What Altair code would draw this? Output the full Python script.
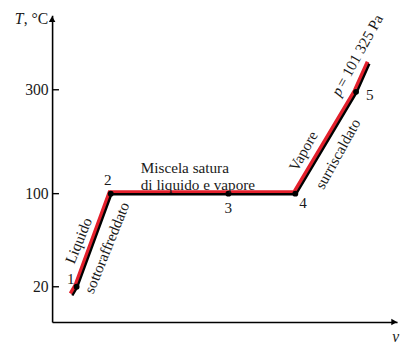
import altair as alt
import pandas as pd

# Heating path of water at constant pressure (schematic T-v diagram)
v_path = [5.7, 7.1, 17.0, 51.1, 70.5, 88.1, 91.8]
T_path = [13, 20, 100, 100, 100, 296, 351]
state_labels = ["", "1", "2", "3", "4", "5", ""]

tick_values = [20, 100, 300]

# piecewise (schematic) temperature axis
y_domain = [-10.3, 20, 100, 300, 443]
y_range = [313, 277, 182, 76, 0]

W, H = 352, 313
FONT = "Liberation Serif"
FS = 15.5
TXT = "#1a1a1a"

path = pd.DataFrame({"v": v_path, "T": T_path, "order": list(range(len(v_path))), "lab": state_labels})
pts = path[path["lab"] != ""].copy()

xs = alt.Scale(domain=[0, 100], nice=False, zero=False)
ys = alt.Scale(domain=y_domain, range=y_range, nice=False, zero=False)

X = alt.X("v:Q", scale=xs, axis=alt.Axis(labels=False, ticks=False, grid=False, title=None,
                                          domainColor="black", domainWidth=1.6))
Y = alt.Y("T:Q", scale=ys, axis=alt.Axis(values=tick_values, ticks=False, grid=False, title=None,
                                          labelFont=FONT, labelFontSize=16, labelColor=TXT,
                                          labelPadding=4, domainColor="black", domainWidth=1.6))

base = alt.Chart(path)
red = base.mark_line(color="#e3202c", strokeWidth=3.8, xOffset=-1.3, yOffset=-1.5).encode(x=X, y=Y, order="order:Q")
black = base.mark_line(color="black", strokeWidth=2.4, xOffset=0.6, yOffset=0.6).encode(x=X, y=Y, order="order:Q")
dots = alt.Chart(pts).mark_circle(color="black", size=36, opacity=1).encode(x=X, y=Y)

# point labels (offsets per state)
lab_dx = {"1": -6, "2": -3, "3": 0, "4": 8, "5": 14}
lab_dy = {"1": -8, "2": -14, "3": 15, "4": 10, "5": 3}
num_layers = []
for s in ["1", "2", "3", "4", "5"]:
    d = pts[pts["lab"] == s]
    num_layers.append(alt.Chart(d).mark_text(font=FONT, fontSize=FS, color=TXT, dx=lab_dx[s], dy=lab_dy[s]).encode(
        x=alt.X("v:Q", scale=xs), y=alt.Y("T:Q", scale=ys), text="lab:N"))

# region annotations (rotated along the path)
ann_text = ["Liquido", "sottoraffreddato", "Vapore", "surriscaldato"]
ann_v = [8.5, 15.1, 73.6, 82.1]
ann_T = [58.7, 54.5, 179, 179]
ann_angle = [292, 292, 299, 299]
ann_dy = [-3, 3, -3, 3]
ann_layers = []
for t, vv, tt, a, o in zip(ann_text, ann_v, ann_T, ann_angle, ann_dy):
    ann_layers.append(alt.Chart(pd.DataFrame({"v": [vv], "T": [tt], "t": [t]})).mark_text(
        font=FONT, fontSize=FS, color=TXT, angle=a, dy=o, baseline="middle", align="center").encode(
        x=alt.X("v:Q", scale=xs), y=alt.Y("T:Q", scale=ys), text="t:N"))

mix_text = ["Miscela satura", "di liquido e vapore"]
mix_T = [149, 116]
mix = alt.Chart(pd.DataFrame({"v": [25.7, 25.7], "T": mix_T, "t": mix_text})).mark_text(
    font=FONT, fontSize=FS, color=TXT, align="left", baseline="middle").encode(
    x=alt.X("v:Q", scale=xs), y=alt.Y("T:Q", scale=ys), text="t:N")

p_df = pd.DataFrame({"v": [84.1], "T": [283]})
p_it = alt.Chart(p_df).mark_text(font=FONT, fontSize=FS, fontStyle="italic", color=TXT, angle=299, dy=-8,
                                 align="left", baseline="middle", text="p").encode(
    x=alt.X("v:Q", scale=xs), y=alt.Y("T:Q", scale=ys))
p_rest = alt.Chart(p_df).mark_text(font=FONT, fontSize=FS, color=TXT, angle=299, dx=10, dy=-8,
                                   align="left", baseline="middle", text="= 101 325 Pa").encode(
    x=alt.X("v:Q", scale=xs), y=alt.Y("T:Q", scale=ys))

# inward tick marks on the temperature axis
ticks = alt.Chart(pd.DataFrame({"T": tick_values})).mark_rule(color="black", strokeWidth=1.4).encode(
    y=alt.Y("T:Q", scale=ys), x=alt.value(0), x2=alt.value(7))

# axis arrows and titles
arrow_up = alt.Chart(pd.DataFrame({"a": [0]})).mark_point(shape="triangle-up", filled=True, color="black",
                                                           size=45, opacity=1).encode(
    x=alt.value(0), y=alt.value(4))
arrow_right = alt.Chart(pd.DataFrame({"a": [0]})).mark_point(shape="triangle-right", filled=True, color="black",
                                                              size=45, opacity=1).encode(
    x=alt.value(W - 3), y=alt.value(H))
t_it = alt.Chart(pd.DataFrame({"a": [0]})).mark_text(font=FONT, fontSize=16, fontStyle="italic", color=TXT,
                                                      align="left", baseline="middle", text="T").encode(
    x=alt.value(-38), y=alt.value(4))
t_unit = alt.Chart(pd.DataFrame({"a": [0]})).mark_text(font=FONT, fontSize=16, color=TXT,
                                                        align="left", baseline="middle", text=", °C").encode(
    x=alt.value(-29), y=alt.value(4))
v_lab = alt.Chart(pd.DataFrame({"a": [0]})).mark_text(font=FONT, fontSize=16, fontStyle="italic", color=TXT,
                                                       align="left", baseline="middle", text="v").encode(
    x=alt.value(W - 5), y=alt.value(H + 15))

chart = alt.layer(red, black, dots, *num_layers, *ann_layers, mix, p_it, p_rest, ticks,
                  arrow_up, arrow_right, t_it, t_unit, v_lab).properties(
    width=W, height=H,
    autosize=alt.AutoSizeParams(type="none"),
    padding={"left": 45, "top": 4, "right": 5, "bottom": 20},
    background="white",
).configure_view(stroke=None)

chart.save("out.html", embed_options={"renderer": "svg", "actions": False})
